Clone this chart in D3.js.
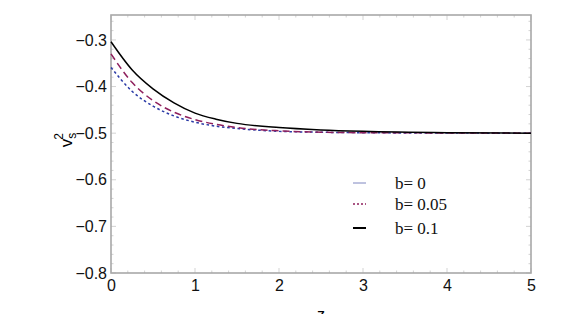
<!DOCTYPE html>
<html>
<head>
<meta charset="utf-8">
<style>
  body { margin: 0; background: #fff; }
  .tick text { font: 16px "Liberation Sans", Arial, sans-serif; fill: #111; }
  .legend text { font: 17px "Liberation Serif", "Times New Roman", serif; fill: #111; }
</style>
</head>
<body>
<div id="chart"></div>
<script src="https://d3js.org/d3.v7.min.js"></script>
<script>
// values
const zs = [0, 0.25, 0.5, 0.75, 1, 1.25, 1.5, 2, 2.5, 3, 4, 5];
const b0 = [-0.359, -0.410, -0.442, -0.463, -0.4765, -0.485, -0.490, -0.496, -0.498, -0.499, -0.4998, -0.500];
const b005 = [-0.330, -0.391, -0.430, -0.455, -0.471, -0.481, -0.488, -0.495, -0.498, -0.499, -0.4995, -0.500];
const b01 = [-0.304, -0.364, -0.405, -0.435, -0.457, -0.470, -0.479, -0.488, -0.493, -0.496, -0.499, -0.500];
const labels = ["b= 0", "b= 0.05", "b= 0.1"];
const xTicks = [0, 1, 2, 3, 4, 5];
const yTicks = [-0.8, -0.7, -0.6, -0.5, -0.4, -0.3];

const width = 580, height = 314;
const mLeft = 111, mRight = 531, mTop = 15, mBottom = 273;

const svg = d3.select('#chart').append('svg')
  .attr('width', width).attr('height', height);

const x = d3.scaleLinear().domain([0, 5]).range([mLeft, mRight]);
const y = d3.scaleLinear().domain([-0.8, -0.2465]).range([mBottom, mTop]);

// frame ticks (minor then major)
const frame = svg.append('g');
const minorX = d3.range(0, 5.001, 0.2);
const minorY = d3.range(-0.8, -0.245, 0.02);
const isMajorX = d => xTicks.includes(Math.round(d * 10) / 10);
const isMajorY = d => Math.abs(Math.round(d * 50)) % 5 === 0;
frame.selectAll('.mx').data(minorX).enter().append('line')
  .attr('x1', d => x(d)).attr('x2', d => x(d))
  .attr('y1', mBottom).attr('y2', d => mBottom - (isMajorX(d) ? 5 : 2.5))
  .attr('stroke', '#c8c8c8').attr('stroke-width', 0.8);
frame.selectAll('.mxt').data(minorX).enter().append('line')
  .attr('x1', d => x(d)).attr('x2', d => x(d))
  .attr('y1', mTop).attr('y2', d => mTop + (isMajorX(d) ? 5 : 2.5))
  .attr('stroke', '#c8c8c8').attr('stroke-width', 0.8);
frame.selectAll('.my').data(minorY).enter().append('line')
  .attr('y1', d => y(d)).attr('y2', d => y(d))
  .attr('x1', mLeft).attr('x2', d => mLeft + (isMajorY(d) ? 5 : 2.5))
  .attr('stroke', '#c8c8c8').attr('stroke-width', 0.8);
frame.selectAll('.myr').data(minorY).enter().append('line')
  .attr('y1', d => y(d)).attr('y2', d => y(d))
  .attr('x1', mRight).attr('x2', d => mRight - (isMajorY(d) ? 5 : 2.5))
  .attr('stroke', '#c8c8c8').attr('stroke-width', 0.8);

frame.append('rect')
  .attr('x', mLeft).attr('y', mTop)
  .attr('width', mRight - mLeft).attr('height', mBottom - mTop)
  .attr('fill', 'none').attr('stroke', '#a8a8a8').attr('stroke-width', 1.6);

// axis labels
const xAxis = svg.append('g').attr('transform', `translate(0,${mBottom})`)
  .call(d3.axisBottom(x).tickValues(xTicks).tickSize(0).tickPadding(7).tickFormat(d3.format('d')));
xAxis.select('.domain').remove();

const yAxis = svg.append('g').attr('transform', `translate(${mLeft},0)`)
  .call(d3.axisLeft(y).tickValues(yTicks).tickSize(0).tickPadding(4)
    .tickFormat(d => '\u2212' + d3.format('.1f')(-d)));
yAxis.select('.domain').remove();

svg.append('text')
  .attr('x', 321).attr('y', 320)
  .style('font', '16px "Liberation Sans", Arial, sans-serif')
  .attr('text-anchor', 'middle').text('z');

const yl = svg.append('text')
  .attr('transform', 'translate(72,140) rotate(-90)')
  .attr('text-anchor', 'middle')
  .style('font', '17px "Liberation Sans", Arial, sans-serif');
yl.append('tspan').text('v');
yl.append('tspan').attr('dy', 4).style('font-size', '12px').text('s');
yl.append('tspan').attr('dx', -7).attr('dy', -13).style('font-size', '12px').text('2');

// curves
const series = [
  { vals: b0, color: '#2a3aa6', dash: '2.6,2.6', w: 1.5 },
  { vals: b005, color: '#8e1f5c', dash: '7,4', w: 1.5 },
  { vals: b01, color: '#000', dash: null, w: 1.5 }
];
const line = d3.line()
  .x(d => x(d[0])).y(d => y(d[1]))
  .curve(d3.curveMonotoneX);

svg.append('g').selectAll('path').data(series).enter().append('path')
  .attr('d', s => line(zs.map((z, i) => [z, s.vals[i]])))
  .attr('fill', 'none')
  .attr('stroke', s => s.color)
  .attr('stroke-width', s => s.w)
  .attr('stroke-dasharray', s => s.dash);

// legend
const legendY = [183, 204, 228];
const legendStyle = [
  { color: '#7f86c0', dash: null, w: 1 },
  { color: '#8e1f5c', dash: '2,2', w: 1.5 },
  { color: '#000', dash: null, w: 2 }
];
const lg = svg.append('g').attr('class', 'legend');
lg.selectAll('line').data(labels).enter().append('line')
  .attr('x1', 353).attr('x2', 366)
  .attr('y1', (d, i) => legendY[i]).attr('y2', (d, i) => legendY[i])
  .attr('stroke', (d, i) => legendStyle[i].color)
  .attr('stroke-width', (d, i) => legendStyle[i].w)
  .attr('stroke-dasharray', (d, i) => legendStyle[i].dash);
lg.selectAll('text').data(labels).enter().append('text')
  .attr('x', 395).attr('y', (d, i) => legendY[i]).attr('dy', '0.35em')
  .text(d => d);
</script>
</body>
</html>
